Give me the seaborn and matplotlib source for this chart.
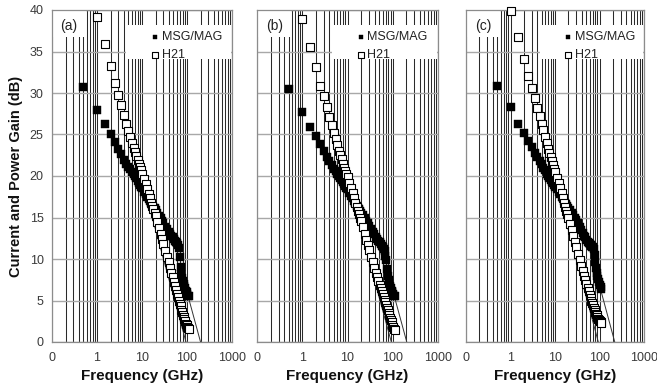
import numpy as np
import pandas as pd
import matplotlib
matplotlib.use("Agg")
import matplotlib.pyplot as plt
import seaborn as sns
from matplotlib.ticker import FixedLocator, LogLocator, NullFormatter, FixedFormatter
from matplotlib.patches import Rectangle

# ---------------- data ----------------
freq = [0.5, 1, 1.5, 2, 2.5, 3, 3.5, 4, 4.5, 5, 5.5, 6, 6.5, 7, 7.5, 8, 8.5, 9, 9.5, 10,
        11, 12, 13, 14, 15, 16, 17, 18, 19, 20, 22, 24, 26, 28, 30, 33, 36, 39, 42, 45,
        48, 51, 54, 57, 60, 63, 66, 69, 72, 75, 78, 81, 84, 87, 90, 94, 98, 102, 106, 110]

msg_a = [30.7, 28.0, 26.3, 25.1, 24.1, 23.2, 22.6, 21.9, 21.5, 21.1, 20.8, 20.5, 20.2, 20.0, 19.7,
         19.4, 19.2, 18.9, 18.7, 18.5, 18.1, 17.8, 17.5, 17.2, 17.0, 16.7, 16.5, 16.3, 16.1, 15.9,
         15.6, 15.2, 14.9, 14.6, 14.3, 13.9, 13.6, 13.3, 13.0, 12.8, 12.6, 12.4, 12.2, 12.0, 11.9,
         11.7, 11.3, 10.2, 9.0, 8.2, 7.7, 7.3, 7.0, 6.7, 6.5, 6.2, 6.0, 5.8, 5.6, 5.5]
h21_a = [np.nan, 39.2, 35.9, 33.3, 31.2, 29.8, 28.6, 27.4, 26.3, 25.4, 24.7, 24.0, 23.4, 22.9, 22.4,
         21.9, 21.5, 21.1, 20.7, 20.3, 19.6, 19.0, 18.4, 17.8, 17.3, 16.8, 16.4, 16.0, 15.6, 15.2,
         14.4, 13.7, 13.0, 12.4, 11.8, 11.0, 10.2, 9.6, 8.9, 8.3, 7.8, 7.2, 6.7, 6.3, 5.8,
         5.4, 5.0, 4.6, 4.3, 3.9, 3.6, 3.3, 3.0, 2.8, 2.5, 2.2, 2.0, 1.8, 1.7, 1.6]

msg_b = [30.5, 27.7, 25.9, 24.8, 23.8, 23.0, 22.3, 21.8, 21.3, 20.9, 20.6, 20.3, 20.0, 19.8, 19.5,
         19.3, 19.0, 18.8, 18.6, 18.4, 18.0, 17.6, 17.3, 17.0, 16.7, 16.4, 16.2, 16.0, 15.8, 15.6,
         15.3, 14.9, 14.6, 14.3, 14.0, 13.6, 13.3, 13.0, 12.7, 12.4, 12.2, 12.0, 11.8, 11.6, 11.4,
         11.2, 11.0, 10.4, 9.9, 8.8, 8.0, 7.5, 7.1, 6.8, 6.5, 6.2, 6.0, 5.8, 5.6, 5.5]
h21_b = [np.nan, 38.9, 35.6, 33.1, 30.9, 29.6, 28.3, 27.1, 26.1, 25.2, 24.4, 23.7, 23.0, 22.5, 22.0,
         21.5, 21.0, 20.6, 20.2, 19.9, 19.2, 18.5, 17.9, 17.3, 16.8, 16.3, 15.8, 15.4, 15.0, 14.6,
         13.8, 13.0, 12.3, 11.7, 11.1, 10.3, 9.6, 8.9, 8.3, 7.8, 7.3, 6.9, 6.5, 6.1, 5.8,
         5.4, 5.1, 4.8, 4.4, 4.1, 3.8, 3.5, 3.2, 2.9, 2.7, 2.4, 2.1, 1.8, 1.6, 1.4]

msg_c = [30.9, 28.3, 26.3, 25.2, 24.2, 23.5, 22.8, 22.3, 21.8, 21.4, 21.0, 20.7, 20.3, 20.05, 19.8,
         19.5, 19.3, 19.1, 18.9, 18.7, 18.4, 18.1, 17.8, 17.5, 17.3, 17.0, 16.8, 16.6, 16.4, 16.2,
         15.9, 15.6, 15.3, 15.0, 14.7, 14.3, 13.9, 13.5, 13.1, 12.8, 12.6, 12.3, 12.1, 11.9, 11.8,
         11.7, 11.6, 11.5, 11.4, 11.2, 10.5, 9.6, 8.9, 8.3, 7.9, 7.6, 7.2, 6.9, 6.6, 6.4]
h21_c = [np.nan, 39.9, 36.7, 34.1, 32.0, 30.6, 29.4, 28.2, 27.2, 26.3, 25.5, 24.7, 24.0, 23.3, 22.8,
         22.3, 21.8, 21.3, 20.9, 20.5, 19.8, 19.2, 18.5, 17.9, 17.3, 16.8, 16.3, 15.8, 15.4, 15.0,
         14.2, 13.5, 12.8, 12.1, 11.5, 10.6, 9.9, 9.2, 8.6, 8.0, 7.5, 7.0, 6.5, 6.1, 5.7,
         5.3, 5.0, 4.7, 4.4, 4.1, 3.9, 3.6, 3.4, 3.2, 3.0, 2.8, 2.6, 2.5, 2.4, 2.3]

# -20 dB/dec extrapolation lines (end points)
h21_fit_f = [[7, 95], [7, 93], [7, 94]]
h21_fit_g = [[22.65, 0], [22.5, 0], [22.6, 0]]
msg_fit_f = [[100, 200], [100, 204], [110, 220]]
msg_fit_g = [[6.0, 0], [6.2, 0], [6.0, 0]]

panel_labels = ["(a)", "(b)", "(c)"]
series_names = ["MSG/MAG", "H21"]
x_ticks = [0.1, 1, 10, 100, 1000]
x_tick_labels = ["0", "1", "10", "100", "1000"]
y_ticks = [0, 5, 10, 15, 20, 25, 30, 35, 40]

msg_all = [msg_a, msg_b, msg_c]
h21_all = [h21_a, h21_b, h21_c]

# ---------------- style ----------------
sns.set_style("white")
plt.rcParams['font.family'] = ['Liberation Sans', 'DejaVu Sans']

fig = plt.figure(figsize=(6.57, 3.88), dpi=100)
W, H = 657, 388
boxes = [(52, 232), (257, 438), (466, 644)]
top_px, bot_px = 10, 342

grid_dark = '#2a2a2a'
grid_gray = '#a8a8a8'
spine_gray = '#8c8c8c'
tick_col = '#3a3a3a'

for i in range(3):
    l, r = boxes[i]
    ax = fig.add_axes([l / W, (H - bot_px) / H, (r - l) / W, (bot_px - top_px) / H])
    ax.set_xscale('log')
    ax.set_xlim(0.1, 1000)
    ax.set_ylim(0, 40)

    df = pd.DataFrame({'f': freq, 'msg': msg_all[i], 'h21': h21_all[i]})

    # grids
    ax.set_axisbelow(True)
    ax.xaxis.set_major_locator(FixedLocator(x_ticks))
    ax.xaxis.set_major_formatter(FixedFormatter(x_tick_labels))
    ax.xaxis.set_minor_locator(LogLocator(base=10, subs=np.arange(2, 10)))
    ax.xaxis.set_minor_formatter(NullFormatter())
    ax.yaxis.set_major_locator(FixedLocator(y_ticks))
    ax.grid(True, which='major', axis='x', color=grid_dark, lw=0.75)
    ax.grid(True, which='minor', axis='x', color=grid_dark, lw=0.75)
    ax.grid(True, which='major', axis='y', color=grid_gray, lw=1.0)

    # white boxes behind panel label and legend
    ax.add_patch(Rectangle((0.004, 0.918), 0.185, 0.082, transform=ax.transAxes,
                           facecolor='white', edgecolor='none', zorder=1))
    ax.add_patch(Rectangle((0.413, 0.852), 0.582, 0.103, transform=ax.transAxes,
                           facecolor='white', edgecolor='none', zorder=1))

    # fit lines
    sns.lineplot(x=h21_fit_f[i], y=h21_fit_g[i], ax=ax, color='#333333', lw=0.7,
                 zorder=2, estimator=None, sort=False)
    sns.lineplot(x=msg_fit_f[i], y=msg_fit_g[i], ax=ax, color='#333333', lw=0.7,
                 zorder=2, estimator=None, sort=False)

    # data
    sns.scatterplot(data=df, x='f', y='msg', ax=ax, marker='s', s=28, color='black',
                    edgecolor='black', linewidth=0.3, label=series_names[0], zorder=3,
                    clip_on=False)
    sns.scatterplot(data=df, x='f', y='h21', ax=ax, marker='s', s=34, color='white',
                    edgecolor='black', linewidth=0.8, label=series_names[1], zorder=4,
                    clip_on=False)

    leg = ax.legend(loc='upper left', bbox_to_anchor=(0.515, 0.955), frameon=False,
                    borderpad=0, handlelength=0.7, handletextpad=0.15, labelspacing=0.5,
                    markerscale=0.65, fontsize=9)
    for t in leg.get_texts():
        t.set_color('#222222')
    leg.set_zorder(5)

    ax.text(0.095, 0.953, panel_labels[i], transform=ax.transAxes, ha='center', va='center',
            fontsize=10, color='#222222', zorder=5)

    for s in ['left', 'bottom', 'top', 'right']:
        ax.spines[s].set_color(spine_gray)
        ax.spines[s].set_linewidth(0.9)

    ax.tick_params(axis='x', which='major', direction='out', length=4, width=0.8,
                   color=spine_gray, labelsize=9, labelcolor=tick_col, pad=3)
    ax.tick_params(axis='x', which='minor', length=0)
    ax.tick_params(axis='y', which='major', direction='out', length=4, width=0.8,
                   color=spine_gray, labelsize=9, labelcolor=tick_col, pad=2)
    if i > 0:
        ax.set_yticklabels([])
        ax.set_ylabel('')
    else:
        ax.set_ylabel('Current and Power Gain (dB)', fontsize=10.5, fontweight='bold',
                      color='#111111', labelpad=5)
    ax.set_xlabel('Frequency (GHz)', fontsize=11, fontweight='bold', color='#111111',
                  labelpad=4)

fig.savefig('out.png', dpi=100)
